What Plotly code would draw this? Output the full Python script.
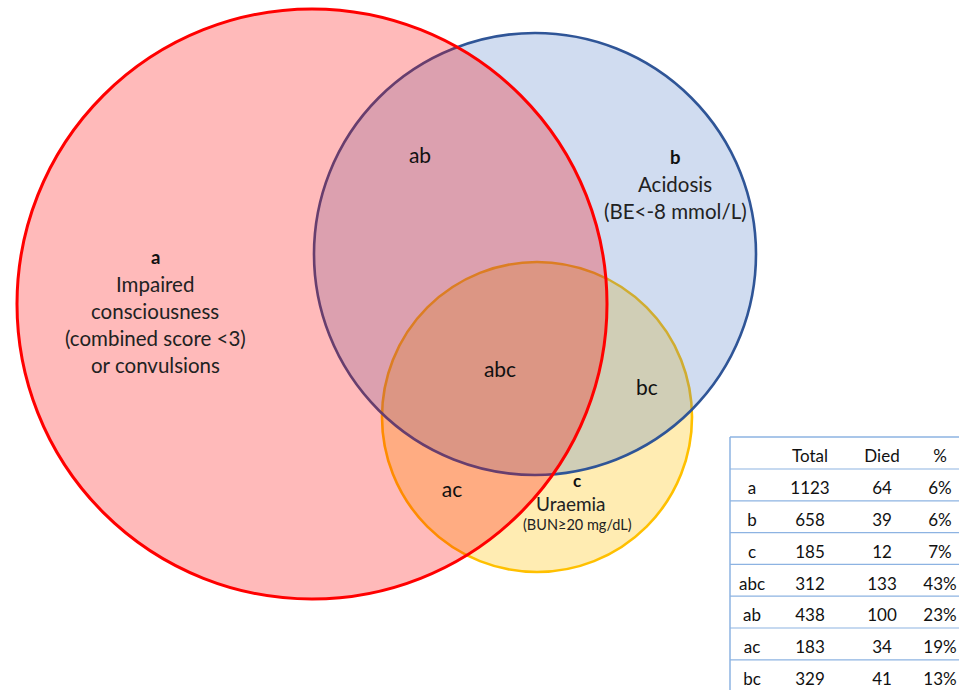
import plotly.graph_objects as go

# ---- data ----
set_keys = ["a", "b", "c"]
set_names = ["Impaired<br>consciousness<br>(combined score <3)<br>or convulsions",
             "Acidosis<br>(BE<-8 mmol/L)",
             "Uraemia<br>(BUN≥20 mg/dL)"]
# circle geometry (pixel units of the drawing)
circle_cx = [312, 535, 537]
circle_cy = [304, 254, 417]
circle_r = [295, 221, 155]

region_labels = ["ab", "abc", "bc", "ac"]
region_x = [420, 500, 647, 452]
region_y = [158, 372, 390, 492]

table_rows = ["a", "b", "c", "abc", "ab", "ac", "bc"]
table_total = [1123, 658, 185, 312, 438, 183, 329]
table_died = [64, 39, 12, 133, 100, 34, 41]
table_pct = ["6%", "6%", "7%", "43%", "23%", "19%", "13%"]
table_header = ["", "Total", "Died", "%"]

FONT = "Lato, Open Sans, sans-serif"
fig = go.Figure()

fills = ["rgba(255,0,0,0.27)", "rgba(68,114,196,0.25)", "rgba(255,192,0,0.30)"]
lines = ["#FF0000", "#2F5597", "#FFC000"]
widths = [3, 2.6, 2.6]
# draw c, then b, then a (a on top)
for i in [2, 1, 0]:
    fig.add_shape(type="circle", xref="x", yref="y",
                  x0=circle_cx[i] - circle_r[i], x1=circle_cx[i] + circle_r[i],
                  y0=circle_cy[i] - circle_r[i], y1=circle_cy[i] + circle_r[i],
                  fillcolor=fills[i], line=dict(color=lines[i], width=widths[i]),
                  layer="below")

# set labels
label_pos = {"a": (155, 257, 20.5), "b": (675, 157, 20.5), "c": (577, 480, 19)}
for k, name in zip(set_keys, set_names):
    x, y0, fs = label_pos[k]
    parts = name.split("<br>")
    fig.add_annotation(x=x, y=y0, text="<b>" + k + "</b>", showarrow=False,
                       font=dict(family=FONT, size=fs - 2, color="#111"), xref="x", yref="y")
    spacing = 27 if k != "c" else 23
    for j, p in enumerate(parts):
        size = fs
        xx = x
        if k == "c" and j == 0:
            xx = 571
        if k == "c" and j == 1:
            size = 14.5
        fig.add_annotation(x=xx, y=y0 + spacing * (j + 1) - (2 if (k == "c" and j == 1) else 0),
                           text=p, showarrow=False,
                           font=dict(family=FONT, size=size, color="#222"), xref="x", yref="y")

fig.add_trace(go.Scatter(x=region_x, y=region_y, mode="text", text=region_labels,
                         textfont=dict(family=FONT, size=21, color="#111"),
                         hoverinfo="skip", showlegend=False))

# table
col_x = [752, 810, 882, 940]
header_y = 458
row_y0 = 490
row_h = 31.8
line_col = "#8DB3E2"
fig.add_shape(type="line", x0=730, x1=960, y0=437, y1=437, xref="x", yref="y",
              line=dict(color=line_col, width=1.5))
fig.add_shape(type="line", x0=730, x1=730, y0=437, y1=691, xref="x", yref="y",
              line=dict(color=line_col, width=1.5))
for j in range(len(table_rows)):
    yl = 469 + row_h * j
    fig.add_shape(type="line", x0=730, x1=960, y0=yl, y1=yl, xref="x", yref="y",
                  line=dict(color=line_col, width=1.2))

fig.add_trace(go.Scatter(x=col_x[1:], y=[header_y] * 3, mode="text", text=table_header[1:],
                         textfont=dict(family=FONT, size=17, color="#111"),
                         hoverinfo="skip", showlegend=False, cliponaxis=True))
ys = [row_y0 + row_h * j for j in range(len(table_rows))]
for cx, vals in zip(col_x, [table_rows, table_total, table_died, table_pct]):
    fig.add_trace(go.Scatter(x=[cx] * len(vals), y=ys, mode="text", text=[str(v) for v in vals],
                             textfont=dict(family=FONT, size=17, color="#111"),
                             hoverinfo="skip", showlegend=False, cliponaxis=True))

fig.update_layout(width=959, height=690, margin=dict(l=0, r=0, t=0, b=0),
                  paper_bgcolor="white", plot_bgcolor="white",
                  xaxis=dict(range=[0, 959], visible=False, fixedrange=True),
                  yaxis=dict(range=[690, 0], visible=False, fixedrange=True))
fig.write_html("out.html", config={"displayModeBar": False},
               post_script="document.body.style.margin='0';document.body.style.overflow='hidden';")
